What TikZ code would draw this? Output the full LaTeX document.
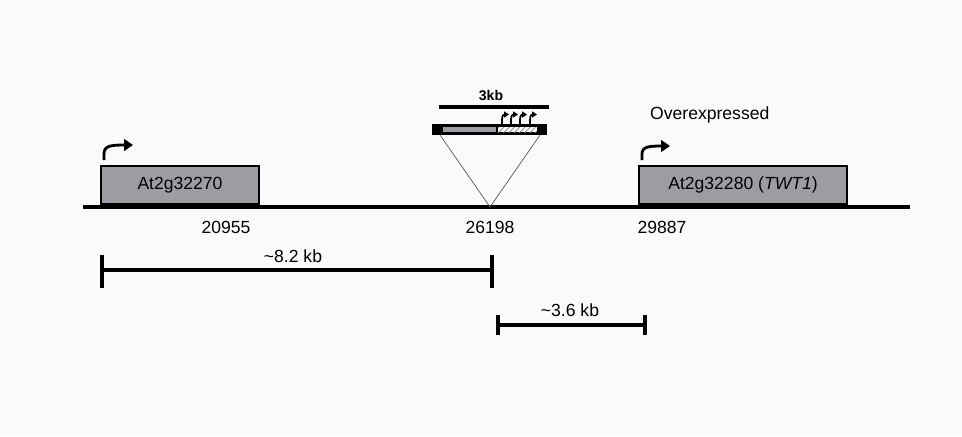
\documentclass[tikz,border=0pt]{standalone}
\usepackage{fontspec}
\setmainfont{Liberation Sans}
\usetikzlibrary{patterns,arrows.meta}
\definecolor{genegray}{RGB}{158,156,162}
\definecolor{bggray}{RGB}{250,250,250}

\tikzset{
  gene/.style={draw, fill=genegray, line width=0.7pt, inner sep=0pt},
  chrom/.style={line width=2.4pt},
  scalebar/.style={line width=1.8pt},
  promoter/.style={line width=1.6pt, -{Triangle[length=5pt,width=6.5pt]}},
  smallpromoter/.style={line width=1pt, -{Triangle[length=2.8pt,width=3.4pt]}},
  label/.style={font=\fontsize{10}{12}\selectfont},
}

\begin{document}
\begin{tikzpicture}[x=0.02cm, y=-0.02cm]
				\fill[bggray] (0,0) rectangle (962,436);
				\useasboundingbox (0,0) rectangle (962,436);

				% chromosome
				\coordinate (cl) at (83,207);
				\coordinate (cr) at (910,207);
				\coordinate (ins) at (490,207);
				\draw[chrom] (cl) -- (cr);

				% genes
				\node[gene, minimum width=3.16cm, minimum height=0.76cm, label] (g1) at (180,185) {At2g32270};
				\node[gene, minimum width=4.16cm, minimum height=0.76cm, label] (g2) at (743,185) {At2g32280 (\textit{TWT1})};
				\draw[promoter] (104,160) -- (104,154) .. controls (104,146) and (110,145) .. (133,145);
				\draw[promoter] (642,160) -- (642,154) .. controls (642,147) and (648,146) .. (670,146);
				\node[label, anchor=west] (over) at (644,115) {Overexpressed};

				% positions
				\node[label] (p1) at (226,227) {20955};
				\node[label] (p2) at (490,227) {26198};
				\node[label] (p3) at (662,227) {29887};

				% insert
				\node[font=\bfseries\fontsize{8}{10}\selectfont] (kb) at (491,95) {3kb};
				\coordinate (bl) at (439,107);
				\coordinate (br) at (549,107);
				\draw[line width=1.8pt] (bl) -- (br);
				\fill[black] (432,124) rectangle (547,135);
				\fill[genegray] (443,127) rectangle (496,132);
				\fill[white] (498,127) rectangle (537,132);
				\fill[pattern=north east lines, pattern color=gray] (498,127) rectangle (537,132);
				\foreach \x in {502,511,520,530}
					\draw[smallpromoter] (\x,124) -- (\x,120) .. controls (\x,115) and (\x+2,114.5) .. (\x+7,114.5);
				\coordinate (il) at (440,135);
				\coordinate (ir) at (540,135);
				\draw[gray!70!black, line width=0.4pt] (il) -- (ins) -- (ir);

				% distances
				\coordinate (a1) at (102,270);
				\coordinate (a2) at (492,270);
				\draw[scalebar] (a1) -- (a2);
				\draw[scalebar] (102,255) -- (102,288);
				\draw[scalebar] (492,255) -- (492,288);
				\node[label] (d1) at (293,256) {\textasciitilde 8.2 kb};
				\coordinate (b1) at (498,325);
				\coordinate (b2) at (645,325);
				\draw[scalebar] (b1) -- (b2);
				\draw[scalebar] (498,315) -- (498,335);
				\draw[scalebar] (645,315) -- (645,335);
				\node[label] (d2) at (570,310) {\textasciitilde 3.6 kb};
\end{tikzpicture}
\end{document}
